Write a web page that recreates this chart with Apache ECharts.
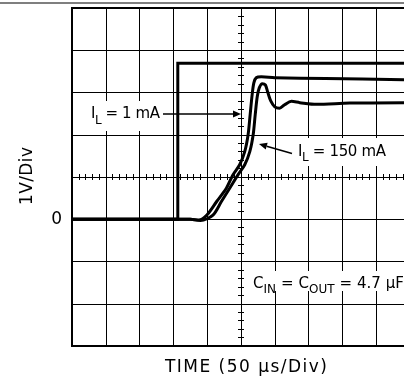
<!DOCTYPE html>
<html>
<head>
<meta charset="utf-8">
<script src="https://cdn.jsdelivr.net/npm/echarts@6/dist/echarts.min.js"></script>
<style>html,body{margin:0;padding:0;background:#fff;}#c{width:404px;height:381px;}</style>
</head>
<body>
<div id="c"></div>
<script>
// ---- data (divisions of time, volts) ----
const xRange = [0, 10];            // 10 time divisions
const yRange = [-3, 5];            // volts, 1V/div
const inputX = [0, 3.13, 3.13, 10];
const inputV = [0, 0, 3.69, 3.69];
const out1mAX = [0, 3.5, 3.75, 3.99, 4.28, 4.57, 4.76, 4.96, 5.11, 5.21, 5.27, 5.33, 5.38, 5.45, 5.6, 6.0, 7.5, 10];
const out1mAV = [0, 0, -0.02, 0.10, 0.42, 0.74, 1.05, 1.29, 1.60, 2.00, 2.47, 2.95, 3.23, 3.35, 3.37, 3.35, 3.33, 3.30];
const out150X = [0, 3.5, 3.8, 4.17, 4.42, 4.67, 4.91, 5.11, 5.26, 5.36, 5.42, 5.48, 5.54, 5.63, 5.72, 5.79, 5.88, 6.0, 6.14, 6.29, 6.49, 6.74, 7.23, 8.22, 10];
const out150V = [0, 0, -0.03, 0.10, 0.42, 0.74, 1.05, 1.29, 1.60, 2.00, 2.47, 2.90, 3.11, 3.21, 3.18, 3.01, 2.80, 2.66, 2.63, 2.71, 2.79, 2.76, 2.72, 2.75, 2.76];
const yTitle = '1V/Div';
const xTitle = 'TIME (50 µs/Div)';
const label1 = [{t:'I'},{t:'L',sub:true},{t:' = 1 mA'}];
const label2 = [{t:'I'},{t:'L',sub:true},{t:' = 150 mA'}];
const label3 = [{t:'C'},{t:'IN',sub:true},{t:' = C'},{t:'OUT',sub:true},{t:' = 4.7 µF'}];

const zip = (xs, ys) => xs.map((x, i) => [x, ys[i]]);
const FAM = 'DejaVu Sans';
const mctx = document.createElement('canvas').getContext('2d');

function trackedText(segs, x0, x1, yc, size) {
  const chars = [];
  segs.forEach(s => { for (const ch of s.t) chars.push({ch, sub: !!s.sub}); });
  let natural = 0;
  chars.forEach(c => {
    c.fs = c.sub ? size * 0.8 : size;
    mctx.font = c.fs + 'px "' + FAM + '"';
    c.w = mctx.measureText(c.ch).width;
    natural += c.w;
  });
  const tr = (x1 - x0 - natural) / (chars.length - 1);
  let x = x0;
  const els = [];
  chars.forEach(c => {
    if (c.ch !== ' ') {
      els.push({type: 'text', x: x, y: yc + (c.sub ? size * 0.42 : 0), z: 100,
        style: {text: c.ch, fill: '#000', fontSize: c.fs, fontFamily: FAM, align: 'left', verticalAlign: 'middle'}});
    }
    x += c.w + tr;
  });
  return els;
}

function arrow(x0, y0, x1, y1) {
  const dx = x1 - x0, dy = y1 - y0, L = Math.hypot(dx, dy);
  const ux = dx / L, uy = dy / L, hl = 8, hw = 3.5;
  const bx = x1 - ux * hl, by = y1 - uy * hl;
  return [
    {type: 'line', z: 100, shape: {x1: x0, y1: y0, x2: bx, y2: by}, style: {stroke: '#000', lineWidth: 1.5}},
    {type: 'polygon', z: 100, shape: {points: [[x1, y1], [bx - uy * hw, by + ux * hw], [bx + uy * hw, by - ux * hw]]}, style: {fill: '#000'}}
  ];
}

const chart = echarts.init(document.getElementById('c'), null, {renderer: 'canvas'});

const hidden = {axisLabel: {show: false}, splitLine: {show: false}};
const tickAxisX = (inside, showLine) => Object.assign({type: 'value', min: xRange[0], max: xRange[1], interval: 0.2, position: 'bottom', offset: -169,
  axisLine: {show: showLine, lineStyle: {color: '#000', width: 1}}, axisTick: {show: true, inside: inside, length: 3, lineStyle: {color: '#000', width: 1}}}, hidden);
const tickAxisY = (inside, showLine) => Object.assign({type: 'value', min: yRange[0], max: yRange[1], interval: 0.2, position: 'left', offset: -169,
  axisLine: {show: showLine, lineStyle: {color: '#000', width: 1}}, axisTick: {show: true, inside: inside, length: 3, lineStyle: {color: '#000', width: 1}}}, hidden);

const lineSeries = (data, smooth) => ({type: 'line', data, xAxisIndex: 0, yAxisIndex: 0, showSymbol: false, smooth: smooth, silent: true,
  lineStyle: {color: '#000', width: 3, join: 'miter', cap: 'butt'}, z: 5});

const graphics = [
  {type: 'line', shape: {x1: 0, y1: 3, x2: 404, y2: 3}, style: {stroke: '#000', lineWidth: 1.2}},
  {type: 'rect', z: 90, shape: {x: 79, y: 101, width: 84, height: 30}, style: {fill: '#fff'}},
  {type: 'rect', z: 90, shape: {x: 291, y: 138, width: 104, height: 28}, style: {fill: '#fff'}},
  {type: 'rect', z: 90, shape: {x: 249, y: 271, width: 160, height: 20}, style: {fill: '#fff'}},
  ...arrow(163, 114, 241, 114),
  ...arrow(292, 153.5, 259, 144),
  ...trackedText(label1, 91, 160, 114.5, 15),
  ...trackedText(label2, 298, 386, 152, 15),
  ...trackedText(label3, 253, 404, 284, 15),
  ...trackedText([{t: xTitle}], 165, 327, 368, 17),
  {type: 'group', x: 28, y: 176, rotation: Math.PI / 2, children: trackedText([{t: yTitle}], -29, 29, 0, 17)}
];

chart.setOption({
  animation: false,
  backgroundColor: '#fff',
  grid: {left: 72, top: 8, width: 338, height: 338, show: true, borderColor: '#000', borderWidth: 2, backgroundColor: 'transparent',
    containLabel: false, outerBoundsMode: 'none'},
  xAxis: [
    {type: 'value', min: xRange[0], max: xRange[1], interval: 1, axisLine: {show: false}, axisTick: {show: false}, axisLabel: {show: false},
      splitLine: {show: true, lineStyle: {color: '#000', width: 1}}},
    tickAxisX(false, true), tickAxisX(true, false)
  ],
  yAxis: [
    {type: 'value', min: yRange[0], max: yRange[1], interval: 1, axisLine: {show: false}, axisTick: {show: false},
      axisLabel: {show: true, margin: 10, color: '#000', fontSize: 17, fontFamily: FAM, formatter: v => (v === 0 ? '0' : '')},
      splitLine: {show: true, lineStyle: {color: '#000', width: 1}}},
    tickAxisY(false, true), tickAxisY(true, false)
  ],
  series: [
    lineSeries(zip(inputX, inputV), false),
    lineSeries(zip(out1mAX, out1mAV), 0.3),
    lineSeries(zip(out150X, out150V), 0.3)
  ],
  graphic: graphics
});
</script>
</body>
</html>
